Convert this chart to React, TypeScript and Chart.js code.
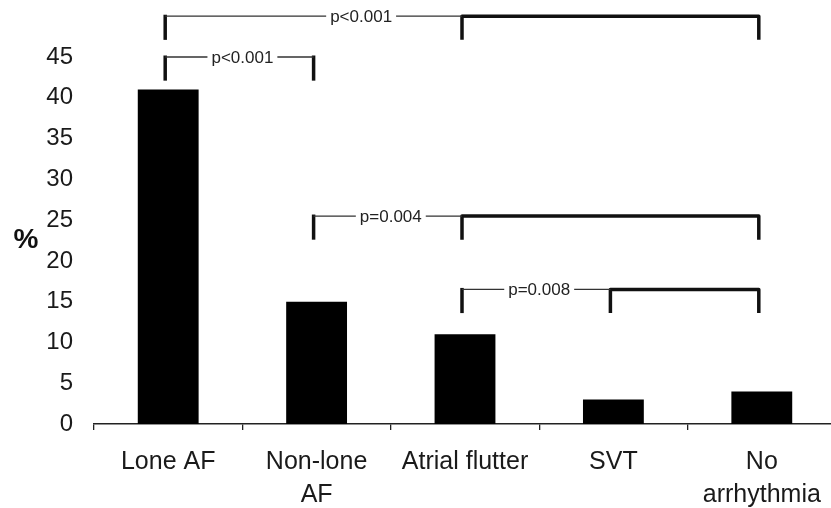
import React, { useEffect, useRef } from "react";
import { Chart, registerables } from "chart.js";

Chart.register(...registerables);

const categories: (string | string[])[] = ["Lone AF", ["Non-lone", "AF"], "Atrial flutter", "SVT", ["No", "arrhythmia"]];
const percentValues = [41, 15, 11, 3, 4];
const yTitle = "%";

// significance brackets (category indices and levels in % units)
const bracketLabels = ["p<0.001", "p<0.001", "p=0.004", "p=0.008"];
const bracketFrom = [0, 0, 1, 2];
const bracketToStart = [2, 1, 2, 3];
const bracketToEnd = [4, 1, 4, 4];
const bracketLevel = [50, 45, 25.5, 16.5];
const bracketLabelAt = [1.3, 0.5, 1.5, 2.5];
const bracketDrop = 2.9;

const FONT = '"Liberation Sans", Arial, Helvetica, sans-serif';

const bracketPlugin = {
  id: "brackets",
  afterDraw(chart: any) {
    const { ctx, scales } = chart;
    const x = scales.x;
    const y = scales.y;
    ctx.save();
    // y title
    ctx.font = `bold 28px ${FONT}`;
    ctx.fillStyle = "#111";
    ctx.textAlign = "center";
    ctx.textBaseline = "middle";
    ctx.fillText(yTitle, x.left - 68, (y.top + y.bottom) / 2);

    const off = -3;
    for (let i = 0; i < bracketLabels.length; i++) {
      const xf = x.getPixelForValue(bracketFrom[i]) + off;
      const xs = x.getPixelForValue(bracketToStart[i]) + off;
      const xe = x.getPixelForValue(bracketToEnd[i]) + off;
      const yl = y.getPixelForValue(bracketLevel[i]);
      const yd = y.getPixelForValue(bracketLevel[i] - bracketDrop);
      const xt = x.getPixelForValue(bracketLabelAt[i]);

      ctx.strokeStyle = "#111";
      ctx.lineWidth = 3.5;
      ctx.lineJoin = "round";
      ctx.lineCap = "butt";
      // left leg
      ctx.beginPath();
      ctx.moveTo(xf, yd);
      ctx.lineTo(xf, yl - 1.5);
      ctx.stroke();
      // right part
      ctx.beginPath();
      if (xs !== xe) {
        ctx.moveTo(xs, yd);
        ctx.lineTo(xs, yl);
        ctx.lineTo(xe, yl);
        ctx.lineTo(xe, yd);
      } else {
        ctx.moveTo(xs, yd);
        ctx.lineTo(xs, yl - 1.5);
      }
      ctx.stroke();

      // label + thin connectors
      ctx.font = `17px ${FONT}`;
      const w = ctx.measureText(bracketLabels[i]).width;
      const gap = 4;
      ctx.strokeStyle = "#333";
      ctx.lineWidth = 1.3;
      ctx.beginPath();
      ctx.moveTo(xf, yl);
      ctx.lineTo(xt - w / 2 - gap, yl);
      ctx.moveTo(xt + w / 2 + gap, yl);
      ctx.lineTo(xs, yl);
      ctx.stroke();
      ctx.fillStyle = "#222";
      ctx.textAlign = "center";
      ctx.textBaseline = "middle";
      ctx.fillText(bracketLabels[i], xt, yl + 1);
    }
    ctx.restore();
  },
};

export default function App() {
  const ref = useRef<HTMLCanvasElement>(null);
  useEffect(() => {
    if (!ref.current) return;
    const chart = new Chart(ref.current, {
      type: "bar",
      data: {
        labels: categories,
        datasets: [
          {
            data: percentValues,
            backgroundColor: "#000",
            borderWidth: 0,
            barPercentage: 0.41,
            categoryPercentage: 1,
          },
        ],
      },
      options: {
        responsive: false,
        animation: false,
        layout: { padding: { top: 57, left: 0, right: 0, bottom: 0 } },
        plugins: { legend: { display: false }, tooltip: { enabled: false } },
        scales: {
          x: {
            offset: true,
            grid: {
              display: true,
              drawOnChartArea: false,
              drawTicks: true,
              tickLength: 6,
              color: "#222",
              lineWidth: 1.3,
              offset: true,
            },
            border: { display: true, color: "#222", width: 1.5 },
            ticks: {
              color: "#1a1a1a",
              font: { family: FONT, size: 25, lineHeight: 1.33 },
              padding: 15,
              maxRotation: 0,
              autoSkip: false,
            },
            afterFit(scale: any) {
              scale.height = 84;
            },
          },
          y: {
            min: 0,
            max: 45,
            grid: { display: false, drawTicks: false },
            border: { display: false },
            ticks: {
              stepSize: 5,
              color: "#1a1a1a",
              font: { family: FONT, size: 24 },
              padding: 21,
            },
            afterFit(scale: any) {
              scale.width = 94;
            },
          },
        },
      },
      plugins: [bracketPlugin],
    });
    return () => chart.destroy();
  }, []);
  return (
    <div style={{ position: "fixed", left: 0, top: 0, width: 831, height: 508, overflow: "hidden", background: "#fff" }}>
      <canvas ref={ref} width={836} height={508} style={{ display: "block" }} />
    </div>
  );
}
